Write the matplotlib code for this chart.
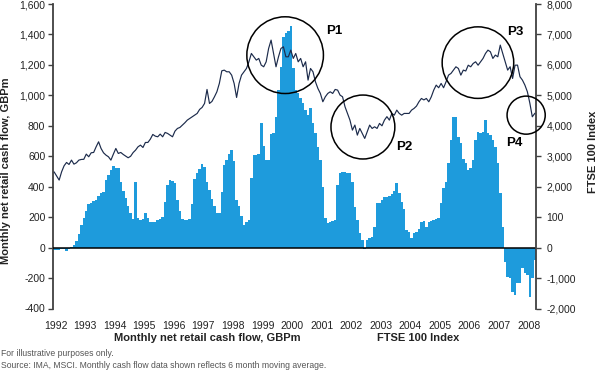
import numpy as np
import matplotlib
matplotlib.use('Agg')
import matplotlib.pyplot as plt
from matplotlib.patches import Ellipse

plt.rcParams['font.family'] = ['Liberation Sans', 'DejaVu Sans']

# monthly net retail cash flow, GBPm (6 month moving average), Jan 1992 - Apr 2008
flow_1992 = [-15, -18, -15, -12, -10, -25, -12, 5, 15, 45, 90, 150]
flow_1993 = [195, 240, 285, 295, 305, 315, 340, 360, 362, 445, 475, 510]
flow_1994 = [535, 525, 520, 430, 375, 325, 272, 225, 185, 430, 195, 182]
flow_1995 = [190, 225, 195, 165, 165, 170, 178, 185, 200, 300, 410, 445]
flow_1996 = [440, 425, 315, 240, 190, 180, 178, 185, 285, 450, 487, 515]
flow_1997 = [548, 530, 428, 378, 318, 270, 228, 225, 367, 540, 575, 615]
flow_1998 = [640, 570, 310, 270, 205, 150, 170, 180, 460, 607, 607, 612]
flow_1999 = [817, 670, 575, 575, 745, 750, 857, 1034, 1187, 1385, 1410, 1420]
flow_2000 = [1455, 1180, 1034, 1015, 982, 950, 903, 874, 920, 817, 750, 662]
flow_2001 = [575, 400, 193, 160, 165, 175, 180, 410, 490, 497, 497, 490]
flow_2002 = [487, 432, 268, 180, 93, 49, -8, 49, 60, 70, 137, 290]
flow_2003 = [295, 312, 330, 334, 338, 349, 373, 426, 360, 301, 251, 115]
flow_2004 = [104, 60, 93, 104, 120, 170, 176, 137, 170, 176, 180, 185]
flow_2005 = [192, 290, 389, 432, 553, 706, 859, 860, 728, 684, 580, 553]
flow_2006 = [509, 520, 575, 706, 761, 750, 760, 837, 750, 739, 706, 662]
flow_2007 = [553, 356, 137, -93, -192, -200, -290, -312, -233, -230, -136, -170]
flow_2008 = [-180, -322, -200, -81]

cash_flow = (flow_1992 + flow_1993 + flow_1994 + flow_1995 + flow_1996 + flow_1997
             + flow_1998 + flow_1999 + flow_2000 + flow_2001 + flow_2002 + flow_2003
             + flow_2004 + flow_2005 + flow_2006 + flow_2007 + flow_2008)

# FTSE 100 index, same months
ftse_1992 = [2480, 2350, 2217, 2490, 2687, 2796, 2730, 2873, 2741, 2785, 2873, 2895]
ftse_1993 = [2900, 3070, 2983, 3114, 3125, 3310, 3475, 3256, 3114, 3037, 2983, 2873]
ftse_1994 = [3070, 3256, 3092, 3125, 3059, 3004, 2950, 3000, 3120, 3201, 3310, 3365]
ftse_1995 = [3288, 3453, 3453, 3562, 3716, 3661, 3639, 3727, 3639, 3782, 3749, 3694]
ftse_1996 = [3639, 3825, 3913, 3946, 4023, 4099, 4187, 4242, 4300, 4351, 4406, 4538]
ftse_1997 = [4603, 4734, 5194, 4734, 4800, 4950, 5117, 5391, 5806, 5828, 5774, 5774]
ftse_1998 = [5664, 5391, 4931, 5391, 5664, 5774, 5883, 6102, 6376, 6266, 6157, 6212]
ftse_1999 = [5993, 5938, 6102, 6540, 6814, 6376, 5938, 6266, 6540, 6595, 6266, 6266]
ftse_2000 = [6485, 6212, 6376, 6102, 6212, 5938, 6102, 5500, 5883, 5774, 5445, 5226]
ftse_2001 = [5062, 4789, 4953, 5062, 5117, 5062, 5194, 5172, 5007, 4953, 4625, 4406]
ftse_2002 = [4187, 3859, 4023, 3694, 3913, 3749, 3585, 3804, 4023, 3913, 3968, 3913]
ftse_2003 = [4078, 4000, 4187, 4300, 4187, 4406, 4350, 4515, 4406, 4350, 4406, 4406]
ftse_2004 = [4406, 4515, 4570, 4647, 4789, 4898, 4850, 4898, 4789, 4950, 5172, 5336]
ftse_2005 = [5250, 5391, 5250, 5445, 5664, 5720, 5829, 5938, 5883, 5664, 5829, 5800]
ftse_2006 = [5990, 5938, 6047, 6102, 5990, 6102, 6212, 6376, 6485, 6430, 6212, 6322]
ftse_2007 = [6267, 6650, 6376, 6102, 5829, 5940, 5555, 5990, 5993, 5610, 5500, 5336]
ftse_2008 = [5117, 4745, 4296, 4406]

ftse = (ftse_1992 + ftse_1993 + ftse_1994 + ftse_1995 + ftse_1996 + ftse_1997
        + ftse_1998 + ftse_1999 + ftse_2000 + ftse_2001 + ftse_2002 + ftse_2003
        + ftse_2004 + ftse_2005 + ftse_2006 + ftse_2007 + ftse_2008)

years = list(range(1992, 2009))
left_ticks = [-400, -200, 0, 200, 400, 600, 800, 1000, 1200, 1400, 1600]
right_ticks = [-2000, -1000, 0, 1000, 2000, 3000, 4000, 5000, 6000, 7000, 8000]
right_labels = ['-2,000', '-1,000', '0', '100', '2,000', '3,000', '4,000',
                '5,000', '6,000', '7,000', '8,000']

# highlighted periods: label, centre (year, index), size, label position
periods = [
    ('P1', 1999.85, 6320, 2.59, 2520, 2001.52, 7110),
    ('P2', 2002.48, 3960, 2.16, 2100, 2003.87, 3300),
    ('P3', 2006.37, 6075, 2.42, 2350, 2007.64, 7077),
    ('P4', 2008.00, 4350, 1.29, 1250, 2007.59, 3430),
]

bar_color = '#1e9bdc'
line_color = '#1c2b4b'
spine_color = '#404040'
text_color = '#222222'

n = len(cash_flow)
t = 1992 + np.arange(n) / 12.0

fig = plt.figure(figsize=(6, 3.71), dpi=100)
ax = fig.add_axes([53 / 600, 1 - 308.5 / 371, 483 / 600, 304.5 / 371])
ax2 = ax.twinx()

ax.bar(t + 1 / 24, cash_flow, width=1 / 12 * 1.05, color=bar_color, linewidth=0, zorder=2)
ax.axhline(0, color='black', lw=1.1, zorder=3)
ax.set_xlim(1992, 1992 + n / 12.0)
ax.set_ylim(-400, 1600)
ax.set_yticks(left_ticks)
ax.set_yticklabels([f'{v:,}' for v in left_ticks])
ax.set_xticks(np.array(years) + 1 / 12)
ax.set_xticklabels([str(y) for y in years])

ax2.plot(t + 1 / 24, ftse, color=line_color, lw=0.85, zorder=4)
ax2.set_ylim(-2000, 8000)
ax2.set_yticks(right_ticks)
ax2.set_yticklabels(right_labels)

for a in (ax, ax2):
    for s in ('top', 'bottom'):
        a.spines[s].set_visible(False)
    a.patch.set_visible(False)
ax.spines['right'].set_visible(False)
ax2.spines['left'].set_visible(False)
ax.spines['left'].set_color(spine_color)
ax.spines['left'].set_linewidth(1.3)
ax2.spines['right'].set_color(spine_color)
ax2.spines['right'].set_linewidth(1.3)

ax.tick_params(axis='y', direction='out', length=3.5, width=1, color=spine_color,
               labelsize=7.5, labelcolor=text_color, pad=2)
ax.tick_params(axis='x', length=0, labelsize=7.5, labelcolor=text_color, pad=9)
ax2.tick_params(axis='y', direction='out', length=3.5, width=1, color=spine_color,
                labelsize=7.5, labelcolor=text_color, pad=4)

for lab, cx, cy, w, h, lx, ly in periods:
    ax2.add_patch(Ellipse((cx, cy), w, h, fill=False, edgecolor='black', lw=1.1,
                          zorder=5, clip_on=False))
    ax2.text(lx, ly, lab, fontsize=9.5, fontweight='bold', color='black',
             ha='center', va='center', zorder=6)

fig.text(6 / 600, 1 - 171 / 371, 'Monthly net retail cash flow, GBPm', rotation=90,
         fontsize=8, fontweight='bold', color=text_color, ha='center', va='center')
fig.text(593 / 600, 1 - 152 / 371, 'FTSE 100 Index', rotation=90,
         fontsize=8, fontweight='bold', color=text_color, ha='center', va='center')

fig.text(207 / 600, 1 - 338 / 371, 'Monthly net retail cash flow, GBPm',
         fontsize=8, fontweight='bold', color=text_color, ha='center', va='center')
fig.text(418 / 600, 1 - 338 / 371, 'FTSE 100 Index',
         fontsize=8, fontweight='bold', color=text_color, ha='center', va='center')

fig.text(1 / 600, 1 - 354 / 371, 'For illustrative purposes only.',
         fontsize=6.2, color='#555555', ha='left', va='center')
fig.text(1 / 600, 1 - 366 / 371,
         'Source: IMA, MSCI. Monthly cash flow data shown reflects 6 month moving average.',
         fontsize=6.2, color='#555555', ha='left', va='center')

fig.savefig('out.png', dpi=100)
plt.close(fig)
